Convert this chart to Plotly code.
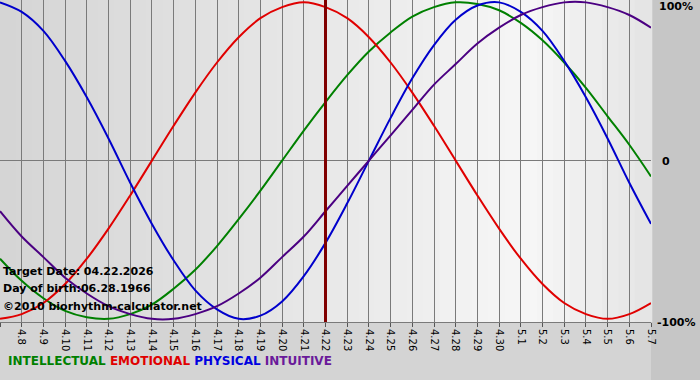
import plotly.graph_objects as go

dates = ["4.7", "4.8", "4.9", "4.10", "4.11", "4.12", "4.13", "4.14", "4.15", "4.16",
         "4.17", "4.18", "4.19", "4.20", "4.21", "4.22", "4.23", "4.24", "4.25", "4.26",
         "4.27", "4.28", "4.29", "4.30", "5.1", "5.2", "5.3", "5.4", "5.5", "5.6", "5.7"]

physical = [1.00, 0.94, 0.82, 0.63, 0.40, 0.14, -0.14, -0.40, -0.63, -0.82, -0.94, -1.00,
            -0.98, -0.89, -0.73, -0.52, -0.27, 0.00, 0.27, 0.52, 0.73, 0.89, 0.98, 1.00,
            0.94, 0.82, 0.63, 0.40, 0.14, -0.14, -0.40]
emotional = [-1.00, -0.97, -0.90, -0.78, -0.62, -0.43, -0.22, 0.00, 0.22, 0.43, 0.62, 0.78,
             0.90, 0.97, 1.00, 0.97, 0.90, 0.78, 0.62, 0.43, 0.22, 0.00, -0.22, -0.43,
             -0.62, -0.78, -0.90, -0.97, -1.00, -0.97, -0.90]
intellectual = [-0.62, -0.76, -0.87, -0.95, -0.99, -1.00, -0.97, -0.91, -0.81, -0.69, -0.54,
                -0.37, -0.19, 0.00, 0.19, 0.37, 0.54, 0.69, 0.81, 0.91, 0.97, 1.00, 0.99,
                0.95, 0.87, 0.76, 0.62, 0.46, 0.28, 0.10, -0.10]
intuitive = [-0.32, -0.48, -0.61, -0.74, -0.84, -0.92, -0.97, -1.00, -1.00, -0.97, -0.92,
             -0.84, -0.74, -0.61, -0.48, -0.32, -0.16, 0.00, 0.16, 0.32, 0.48, 0.61, 0.74,
             0.84, 0.92, 0.97, 1.00, 1.00, 0.97, 0.92, 0.84]

y_labels = ["100%", "0", "-100%"]
target_label = "4.22"
info_lines = ["Target Date: 04.22.2026", "Day of birth:06.28.1966", "\u00a92010 biorhythm-calculator.net"]

W, H = 700, 380
ML, MR, MT, MB = 0, 49, 0, 58
PW, PH = W - ML - MR, H - MT - MB

x = list(range(len(dates)))
target_x = dates.index(target_label)

fig = go.Figure()
series = [
    ("INTELLECTUAL", intellectual, "#008000"),
    ("EMOTIONAL", emotional, "#e00000"),
    ("PHYSICAL", physical, "#0000cc"),
    ("INTUITIVE", intuitive, "#4b0082"),
]
for name, vals, col in series:
    fig.add_trace(go.Scatter(x=x, y=vals, mode="lines", name=name,
                             line=dict(color=col, width=2, shape="spline", smoothing=1.0),
                             hoverinfo="skip"))

shapes = []
# horizontal gradient background for the plot area
n = 40
for i in range(n):
    t = (i + 0.5) / n
    if t < 0.82:
        g = 0xd4 + (0xf6 - 0xd4) * (t / 0.82)
    else:
        g = 0xf6 - (0xf6 - 0xe4) * ((t - 0.82) / 0.18)
    g = int(round(g))
    shapes.append(dict(type="rect", xref="x domain", yref="y domain",
                       x0=i / n, x1=(i + 1) / n + 0.002, y0=0, y1=1,
                       fillcolor=f"rgb({g},{g},{g})", line=dict(width=0), layer="below"))
# bottom paper band (paper coords are relative to plot area)
shapes.append(dict(type="rect", xref="paper", yref="paper", x0=0, x1=1,
                   y0=-MB / PH, y1=0,
                   fillcolor="#d4d4d4", line=dict(width=0), layer="below"))
# target day marker
shapes.append(dict(type="line", xref="x", yref="y domain", x0=target_x, x1=target_x, y0=0, y1=1,
                   line=dict(color="#800000", width=3), layer="above"))

annotations = []
for txt, yp in zip(info_lines, [271, 288, 306]):
    annotations.append(dict(text=txt, xref="paper", yref="paper", x=1 / PW, xanchor="left",
                            y=(PH - yp) / PH, yanchor="middle", showarrow=False,
                            font=dict(family="DejaVu Sans", size=11, color="black", weight="bold")))
for txt, yp, xp in zip(y_labels, [7, 161, 322], [657, 660, 655]):
    annotations.append(dict(text=txt, xref="paper", yref="paper", x=xp / PW, xanchor="left",
                            y=(PH - yp) / PH, yanchor="middle", showarrow=False,
                            font=dict(family="DejaVu Sans", size=11, color="black", weight="bold")))
legend_html = ("<span style='color:#008000'>INTELLECTUAL</span> "
               "<span style='color:#e00000'>EMOTIONAL</span> "
               "<span style='color:#0000e0'>PHYSICAL</span> "
               "<span style='color:#6a1a9a'>INTUITIVE</span>")
annotations.append(dict(text=legend_html, xref="paper", yref="paper", x=6 / PW, xanchor="left",
                        y=(PH - 361) / PH, yanchor="middle", showarrow=False,
                        font=dict(family="DejaVu Sans", size=12, weight="bold")))

fig.update_layout(
    width=W, height=H,
    margin=dict(l=ML, r=MR, t=MT, b=MB, pad=0),
    paper_bgcolor="#c6c6c6",
    plot_bgcolor="#e4e4e4",
    showlegend=False,
    shapes=shapes,
    annotations=annotations,
    xaxis=dict(range=[0, len(dates) - 1], tickmode="array", tickvals=x, ticktext=dates,
               tickangle=90, tickfont=dict(family="DejaVu Sans", size=10, color="black"),
               showgrid=True, gridcolor="#7a7a7a", gridwidth=1,
               ticks="outside", ticklen=4, tickcolor="#555555",
               showline=True, linecolor="#7a7a7a", linewidth=1, zeroline=False,
               automargin=False),
    yaxis=dict(range=[-1.02, 1.015], showticklabels=False,
               showgrid=False, zeroline=True, zerolinecolor="#7a7a7a", zerolinewidth=1,
               showline=False, ticks="", automargin=False),
)

fig.write_html("out.html", config={"displayModeBar": False},
               post_script="document.body.style.margin='0';document.body.style.overflow='hidden';")
